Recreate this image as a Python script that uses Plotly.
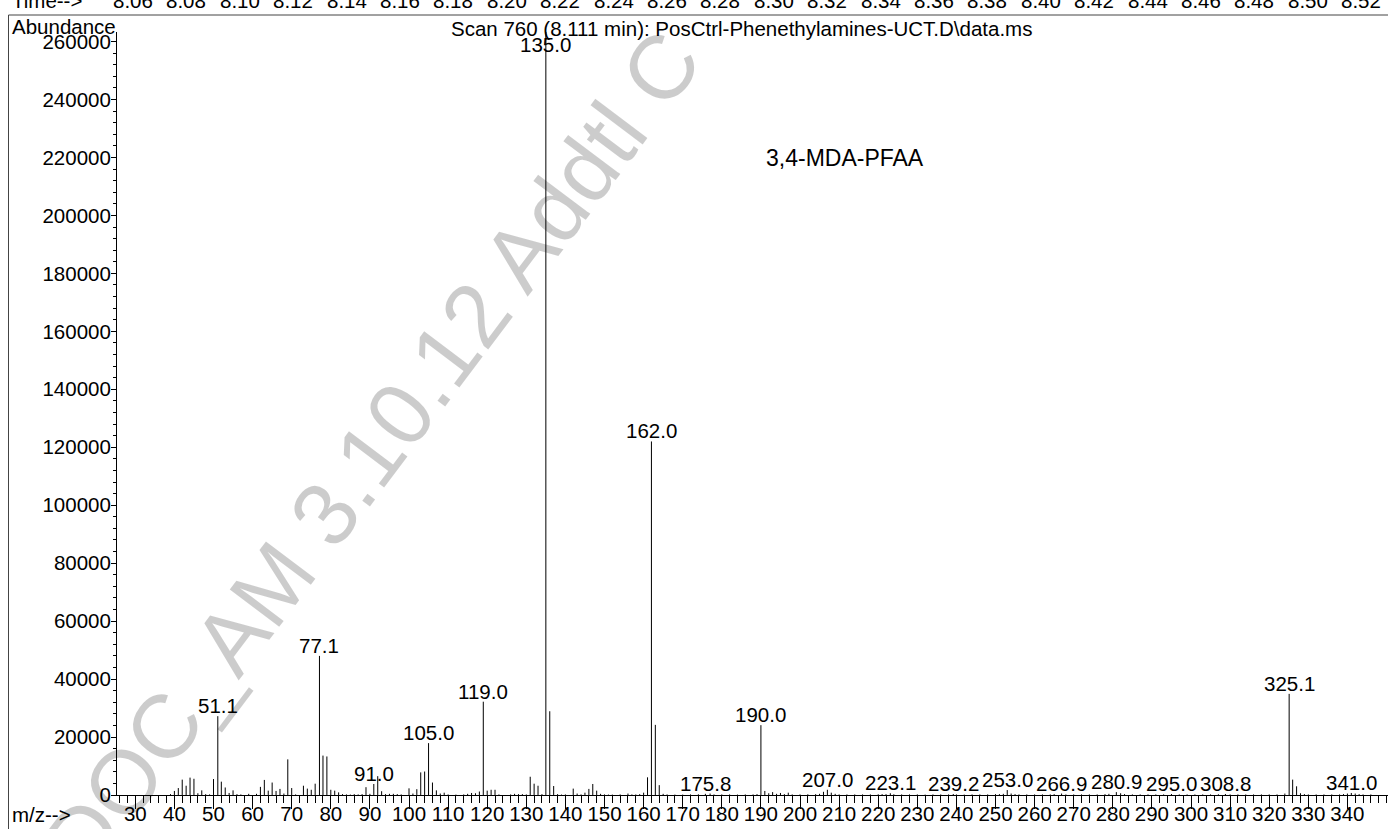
import plotly.graph_objects as go

# ---------------- data ----------------
mz = [39, 40, 41, 42, 43, 44, 45, 46, 47, 48, 49, 50, 51.1, 52, 53, 54, 55, 56, 57, 59,
      61, 62, 63, 64, 65, 66, 67, 68, 69, 70, 71, 73, 74, 75, 76, 77.1, 78, 79, 80, 81,
      82, 83, 84, 85, 86, 87, 88, 89, 90, 91.0, 92, 93, 94, 95, 96, 97, 98, 100, 101, 102,
      103, 104, 105.0, 106, 107, 108, 109, 110, 112, 114, 115, 116, 117, 118, 119.0, 120, 121, 122, 123, 126,
      127, 128, 129, 130, 131, 132, 133, 134, 135.0, 136, 137, 138, 139, 140, 142, 143, 144, 145, 146, 147,
      148, 149, 150, 151, 152, 154, 156, 157, 158, 159, 160, 161, 162.0, 163, 164, 165, 166, 168, 170, 172,
      174, 175.8, 177, 178, 180, 182, 184, 186, 188, 189, 190.0, 191, 192, 193, 194, 195, 196, 197, 198, 200,
      202, 204, 205, 206, 207.0, 208, 209, 210, 212, 214, 216, 218, 220, 221, 222, 223.1, 224, 226, 228, 230,
      232, 234, 236, 238, 239.2, 240, 242, 244, 246, 248, 250, 251, 252, 253.0, 254, 255, 256, 258, 260, 262,
      264, 265, 266.9, 268, 270, 272, 274, 276, 278, 279, 280.9, 282, 283, 285, 287, 289, 291, 293, 295.0, 297,
      299, 301, 303, 305, 307, 308.8, 310, 312, 314, 316, 318, 320, 322, 324, 325.1, 326, 327, 328, 329, 330,
      332, 334, 336, 338, 339, 340, 341.0, 342, 343, 344, 346]
abundance = [300, 1400, 2400, 5300, 3200, 6000, 5600, 600, 1600, 300, 200, 5500, 27200, 4600, 2600, 700, 1600, 300, 200, 400,
             400, 2800, 5200, 1500, 4300, 1400, 2100, 500, 12300, 2400, 200, 3200, 2200, 1800, 3900, 48000, 13600, 13300, 1800, 1500,
             900, 300, 200, 150, 300, 200, 300, 2700, 400, 3800, 6500, 1300, 300, 400, 400, 300, 200, 2300, 500, 2000,
             7800, 8100, 17900, 4300, 1600, 500, 800, 200, 150, 200, 400, 700, 600, 1200, 32200, 1500, 1800, 1800, 200, 200,
             400, 300, 300, 200, 6300, 3900, 3200, 300, 263300, 28900, 3100, 300, 150, 200, 2200, 500, 200, 800, 2100, 3800,
             1500, 400, 200, 150, 150, 200, 500, 200, 200, 300, 800, 6100, 122000, 24200, 3400, 400, 200, 150, 150, 200,
             250, 400, 500, 200, 200, 200, 150, 200, 200, 300, 24100, 1400, 600, 1000, 400, 700, 300, 800, 200, 200,
             250, 300, 400, 1100, 1800, 800, 400, 200, 200, 200, 200, 200, 250, 300, 300, 600, 250, 200, 200, 200,
             150, 200, 200, 200, 350, 200, 150, 200, 200, 200, 300, 300, 400, 1700, 500, 300, 200, 200, 200, 200,
             200, 300, 500, 200, 200, 200, 200, 200, 300, 400, 1000, 600, 300, 200, 200, 200, 200, 200, 350, 200,
             200, 200, 200, 200, 250, 350, 200, 200, 200, 200, 200, 200, 200, 500, 34900, 5300, 3000, 600, 300, 200,
             200, 200, 200, 200, 300, 500, 700, 500, 300, 200, 200]

labeled_peaks = [51.1, 77.1, 91.0, 105.0, 119.0, 162.0, 175.8, 190.0, 207.0, 223.1,
                 239.2, 253.0, 266.9, 280.9, 295.0, 308.8, 325.1, 341.0]
base_peak = 135.0

x_tick_vals = list(range(30, 341, 10))
y_tick_vals = list(range(0, 260001, 20000))

time_labels = ["8.06", "8.08", "8.10", "8.12", "8.14", "8.16", "8.18", "8.20", "8.22", "8.24",
               "8.26", "8.28", "8.30", "8.32", "8.34", "8.36", "8.38", "8.40", "8.42", "8.44",
               "8.46", "8.48", "8.50", "8.52"]

title_text = "Scan 760 (8.111 min): PosCtrl-Phenethylamines-UCT.D\\data.ms"
compound_text = "3,4-MDA-PFAA"
watermark_text = "DOC_AM 3.10.12 Addtl C"

# ---------------- layout geometry ----------------
W, H = 1388, 829
L, R, T, B = 117, 0, 32, 34
PW, PH = W - L - R, H - T - B
FONT = "Liberation Sans, Arial, Helvetica, sans-serif"
FS = 20.5
XR = [25.32, 350.38]


def pxx(px):
    return (px - L) / PW


def pxy(py):
    return (H - B - py) / PH


def txt(font_size=FS):
    return dict(size=font_size, color="black", family=FONT)


xs, ys = [], []
for m, a in zip(mz, abundance):
    xs += [m, m, None]
    ys += [0, a, None]

fig = go.Figure()
fig.add_trace(go.Scatter(x=xs, y=ys, mode="lines",
                         line=dict(color="black", width=1),
                         hoverinfo="skip", showlegend=False))
# invisible trace so the tick-only overlay axis is drawn
fig.add_trace(go.Scatter(x=[XR[0]], y=[0], xaxis="x2", mode="markers",
                         marker=dict(opacity=0), hoverinfo="skip", showlegend=False))

ann = []
abund_of = dict(zip(mz, abundance))
for p in labeled_peaks:
    ann.append(dict(x=p, y=abund_of[p], xref="x", yref="y", text=f"{p:.1f}",
                    showarrow=False, xanchor="center", yanchor="bottom",
                    yshift=-2, borderpad=0, font=txt()))
ann.append(dict(x=base_peak, y=pxy(45), xref="x", yref="paper", text=f"{base_peak:.1f}",
                showarrow=False, xanchor="center", yanchor="middle", font=txt()))

ann.append(dict(x=pxx(10), y=pxy(26.5), xref="paper", yref="paper", text="Abundance",
                showarrow=False, xanchor="left", yanchor="middle", font=txt()))
ann.append(dict(x=pxx(449), y=pxy(29), xref="paper", yref="paper", text=title_text,
                showarrow=False, xanchor="left", yanchor="middle", font=txt()))
ann.append(dict(x=pxx(10), y=pxy(1), xref="paper", yref="paper", text="Time-->",
                showarrow=False, xanchor="left", yanchor="middle", font=txt()))
for i, t in enumerate(time_labels):
    ann.append(dict(x=pxx(133 + i * 53.4), y=pxy(1), xref="paper", yref="paper", text=t,
                    showarrow=False, xanchor="center", yanchor="middle", font=txt()))
ann.append(dict(x=pxx(10), y=pxy(814), xref="paper", yref="paper", text="m/z-->",
                showarrow=False, xanchor="left", yanchor="middle", font=txt()))
ann.append(dict(x=pxx(845), y=pxy(158), xref="paper", yref="paper", text=compound_text,
                showarrow=False, xanchor="center", yanchor="middle", font=txt(23)))
ann.append(dict(x=pxx(372), y=pxy(452), xref="paper", yref="paper", text=watermark_text,
                showarrow=False, xanchor="center", yanchor="middle", textangle=-53,
                font=dict(size=90, color="rgba(0,0,0,0.2)", family=FONT)))

shapes = [
    dict(type="line", xref="paper", yref="paper", x0=pxx(8.5), x1=pxx(8.5), y0=pxy(15), y1=pxy(829),
         line=dict(color="#444", width=1)),
    dict(type="line", xref="paper", yref="paper", x0=pxx(8.5), x1=pxx(1388), y0=pxy(15), y1=pxy(15),
         line=dict(color="#444", width=1)),
]

fig.update_layout(
    width=W, height=H, autosize=False,
    margin=dict(l=L, r=R, t=T, b=B, pad=0),
    paper_bgcolor="white", plot_bgcolor="white",
    annotations=ann, shapes=shapes,
    font=dict(family=FONT, size=FS, color="black"),
    xaxis=dict(range=XR, tickmode="array", tickvals=x_tick_vals, ticks="",
               showline=True, linecolor="black", linewidth=1, showgrid=False, zeroline=False,
               tickfont=txt(), ticklabelstandoff=0),
    xaxis2=dict(range=XR, overlaying="x", anchor="y", side="bottom",
                tickmode="array", tickvals=x_tick_vals, showticklabels=False,
                ticks="outside", ticklen=13, tickwidth=1, tickcolor="black",
                showline=False, showgrid=False, zeroline=False,
                minor=dict(dtick=2, tick0=0, ticks="outside", ticklen=7, tickcolor="black",
                           tickwidth=1, showgrid=False)),
    yaxis=dict(range=[0, 263300], tickmode="array", tickvals=y_tick_vals, tickformat="d",
               ticks="outside", ticklen=5, tickwidth=1, tickcolor="black",
               showline=True, linecolor="black", linewidth=1, showgrid=False, zeroline=False,
               tickfont=txt(), ticklabelstandoff=-4,
               minor=dict(dtick=4000, tick0=0, ticks="outside", ticklen=3, tickcolor="black",
                          tickwidth=1, showgrid=False)),
)

fig.write_html("out.html", config={"displayModeBar": False},
               post_script="document.body.style.margin='0';document.body.style.overflow='hidden';")
